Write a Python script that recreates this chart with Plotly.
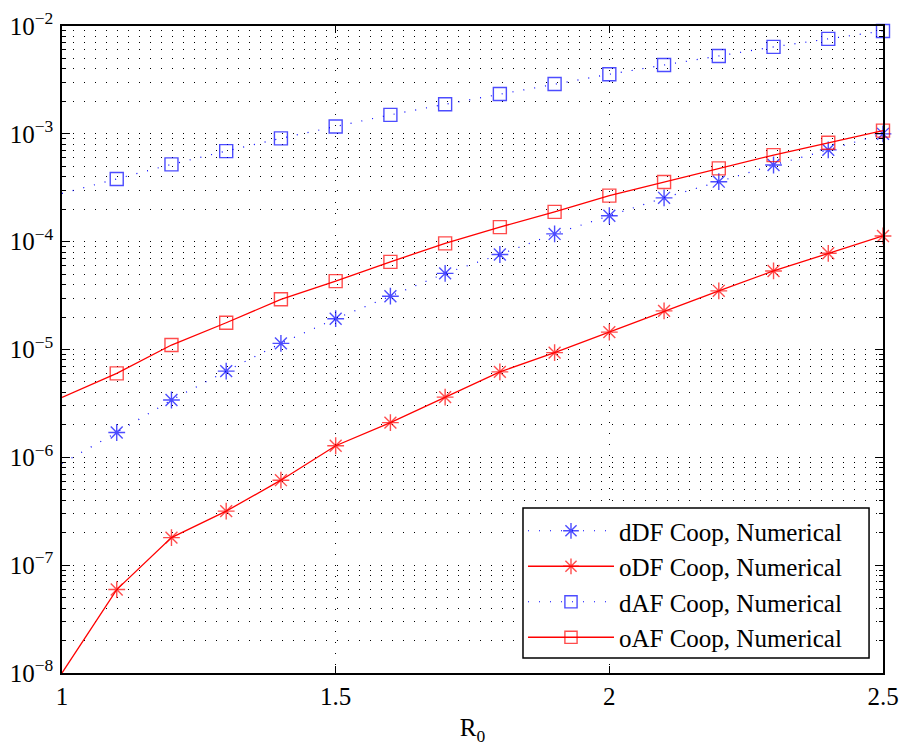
import plotly.graph_objects as go

# Data
r0 = [1.0, 1.1, 1.2, 1.3, 1.4, 1.5, 1.6, 1.7, 1.8, 1.9, 2.0, 2.1, 2.2, 2.3, 2.4, 2.5]

ddf_coop = [8.8e-7, 1.70e-6, 3.4e-6, 6.3e-6, 1.14e-5, 1.93e-5, 3.12e-5, 5.08e-5, 7.6e-5,
            1.18e-4, 1.74e-4, 2.55e-4, 3.6e-4, 5.14e-4, 7.1e-4, 1.0e-3]
odf_coop = [1.0e-8, 5.94e-8, 1.80e-7, 3.17e-7, 6.14e-7, 1.28e-6, 2.10e-6, 3.62e-6, 6.2e-6,
            9.35e-6, 1.45e-5, 2.28e-5, 3.5e-5, 5.35e-5, 7.8e-5, 1.13e-4]
daf_coop = [2.8e-4, 3.81e-4, 5.21e-4, 6.92e-4, 9.08e-4, 1.17e-3, 1.50e-3, 1.88e-3, 2.34e-3,
            2.9e-3, 3.57e-3, 4.35e-3, 5.27e-3, 6.4e-3, 7.6e-3, 9.0e-3]
oaf_coop = [3.6e-6, 6.0e-6, 1.1e-5, 1.77e-5, 2.92e-5, 4.31e-5, 6.5e-5, 9.65e-5, 1.365e-4,
            1.89e-4, 2.67e-4, 3.57e-4, 4.78e-4, 6.35e-4, 8.26e-4, 1.07e-3]

series_names = ["dDF Coop, Numerical", "oDF Coop, Numerical",
                "dAF Coop, Numerical", "oAF Coop, Numerical"]

x_tickvals = [1, 1.5, 2, 2.5]
x_ticktext = ["1", "1.5", "2", "2.5"]

y_tickvals = [1e-8, 1e-7, 1e-6, 1e-5, 1e-4, 1e-3, 1e-2]
y_ticktext = ["10<sup>−8</sup>", "10<sup>−7</sup>", "10<sup>−6</sup>", "10<sup>−5</sup>",
              "10<sup>−4</sup>", "10<sup>−3</sup>", "10<sup>−2</sup>"]

FONT = "Liberation Serif"
BLUE = "#0000ff"
RED = "#ff0000"

fig = go.Figure()

def add(y, name, color, dash, symbol, msize):
    sizes = [0] + [msize] * (len(r0) - 1)
    fig.add_trace(go.Scatter(
        x=r0, y=y, name=name, mode="lines+markers",
        line=dict(color=color, width=1.3 if dash == "solid" else 1.2, dash=dash),
        marker=dict(symbol=symbol, size=sizes, color=color,
                    line=dict(color=color, width=1.4)),
        cliponaxis=False, legendgroup=name,
    ))

add(ddf_coop, series_names[0], BLUE, "1px,10px", "asterisk-open", 14)
add(odf_coop, series_names[1], RED, "solid", "asterisk-open", 14)
add(daf_coop, series_names[2], BLUE, "1px,10px", "square-open", 13)
add(oaf_coop, series_names[3], RED, "solid", "square-open", 13)

grid_dash = "1px,10px"

# Legend frame (white box with black border, drawn above the data, below the legend)
fig.add_shape(type="rect", xref="paper", yref="paper",
              x0=0.5615, x1=0.983, y0=0.0232, y1=0.255,
              fillcolor="white", line=dict(color="black", width=1.5), layer="above")

fig.update_layout(
    width=904, height=753,
    margin=dict(l=62, r=21, t=26, b=80),
    paper_bgcolor="white", plot_bgcolor="white",
    font=dict(family=FONT, size=25, color="black"),
    showlegend=True,
    legend=dict(
        x=0.5615, y=0.255, xanchor="left", yanchor="top",
        bgcolor="rgba(0,0,0,0)", borderwidth=0,
        font=dict(family=FONT, size=25, color="black"),
        traceorder="grouped", tracegroupgap=0,
        itemwidth=86,
    ),
    xaxis=dict(
        range=[1, 2.5], tickvals=x_tickvals, ticktext=x_ticktext,
        ticks="inside", ticklen=7, tickwidth=1, tickcolor="black",
        showline=True, linecolor="black", linewidth=1.5, mirror="allticks",
        showgrid=True, gridcolor="black", gridwidth=1, griddash=grid_dash,
        zeroline=False, automargin=False,
        tickfont=dict(family=FONT, size=25),
        title=dict(text="R<sub>0</sub>", font=dict(family=FONT, size=25), standoff=10),
    ),
    yaxis=dict(
        type="log", range=[-8, -2], tickvals=y_tickvals, ticktext=y_ticktext,
        ticks="inside", ticklen=8, tickwidth=1, tickcolor="black",
        showline=True, linecolor="black", linewidth=1.5, mirror="allticks",
        showgrid=True, gridcolor="black", gridwidth=1, griddash=grid_dash,
        zeroline=False, automargin=False, ticklabelstandoff=2,
        tickfont=dict(family=FONT, size=25),
        minor=dict(tickmode="linear", dtick="D1", ticks="inside", ticklen=4, tickcolor="black",
                   showgrid=True, gridcolor="black", gridwidth=1, griddash=grid_dash),
    ),
)

fig.write_html("out.html", config={"displayModeBar": False},
               post_script="document.body.style.margin='0';")
